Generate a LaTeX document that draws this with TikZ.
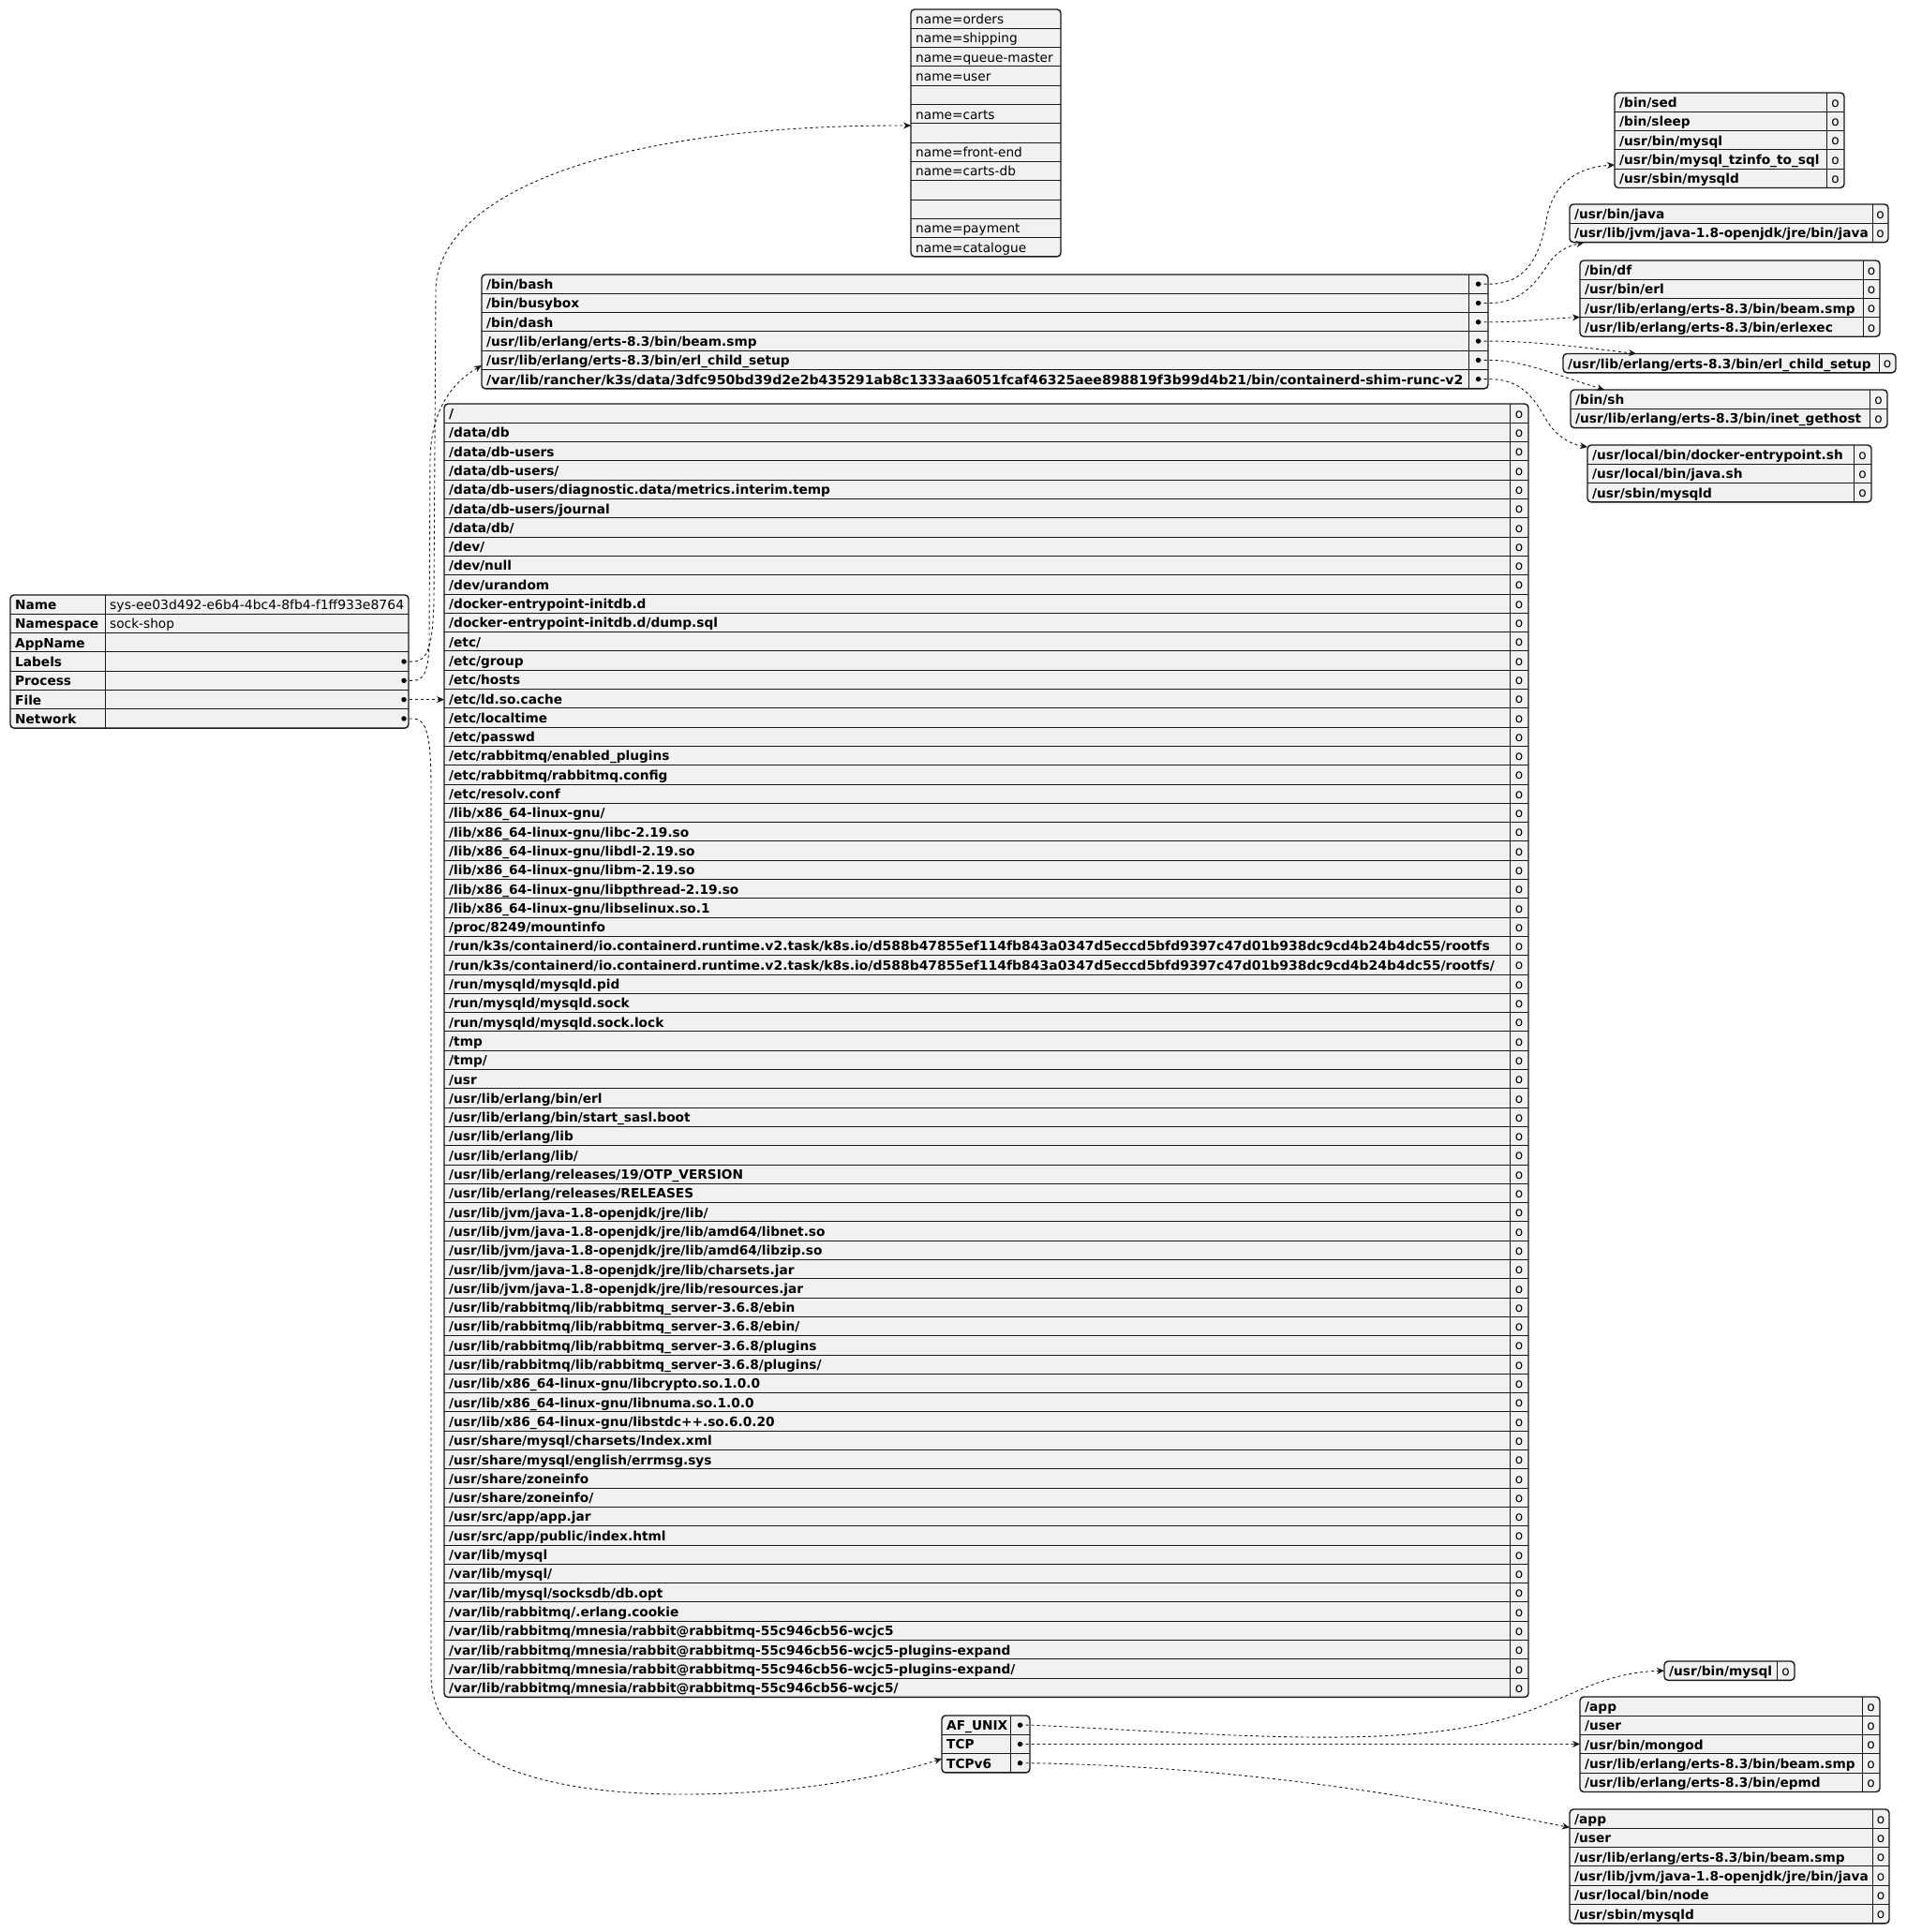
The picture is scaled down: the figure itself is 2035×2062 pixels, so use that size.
\documentclass[tikz,border=0pt]{standalone}
\usepackage{fontspec}
\setmainfont{DejaVu Sans}
\usetikzlibrary{arrows.meta}
\definecolor{tfill}{HTML}{F1F1F1}
\definecolor{tline}{HTML}{181818}
\def\rh{20.3}
\tikzset{
 tbox/.style={draw=tline, fill=tfill, line width=1.4pt, rounded corners=4pt, inner sep=0pt, outer sep=0pt},
 sep/.style={draw=tline, line width=1pt},
 keytxt/.style={font=\fontsize{13.7}{16}\selectfont\bfseries, inner sep=0pt, anchor=base west, text=black},
 valtxt/.style={font=\fontsize{13.7}{16}\selectfont, inner sep=0pt, anchor=base west, text=black},
 omark/.style={font=\fontsize{13.7}{16}\selectfont, inner sep=0pt, anchor=base, text=black},
 dotmark/.style={circle, fill=black, inner sep=0pt, minimum size=5.4pt},
 conn/.style={draw=tline, line width=0.9pt, dash pattern=on 3pt off 3pt, -{Stealth[length=8pt,width=7pt,inset=2.5pt]}},
}
% #1 name, #2 x1, #3 y1, #4 xdiv, #5 x2, #6 rows, #7 keys, #8 mark (o or d)
\newcommand\jtab[8]{%
  \node[tbox, anchor=north west, minimum width={#5-#2}, minimum height={#6*\rh}] (#1) at (#2,#3) {};
  \pgfmathtruncatemacro\jn{#6-1}%
  \ifnum\jn>0
    \foreach \i in {1,...,\jn} {\draw[sep] (#2,{#3+\i*\rh}) -- (#5,{#3+\i*\rh});}
  \fi
  \draw[sep] (#4,#3) -- (#4,{#3+#6*\rh});
  \foreach \t [count=\i] in {#7} {\node[keytxt] (#1-k\i) at ({#2+5},{#3+\i*\rh-\rh+15.5}) {\t};}
  \foreach \i in {1,...,#6} {%
    \if#8o
      \node[omark] (#1-m\i) at ({(#4+#5)/2},{#3+\i*\rh-\rh+15.2}) {o};
    \else
      \node[dotmark] (#1-m\i) at ({(#4+#5)/2},{#3+\i*\rh-\rh/2}) {};
    \fi}
}
\newcommand\wide[2]{\scalebox{#1}[1]{#2}}
\begin{document}
\begin{tikzpicture}[x=1pt,y=-1pt]
\useasboundingbox (0,0) rectangle (2035,2062);
\fill[white] (0,0) rectangle (2035,2062);

% ---------- root table ----------
\node[tbox, anchor=north west, minimum width=425, minimum height={7*\rh}] (info) at (11,635) {};
\foreach \i in {1,...,6} {\draw[sep] (11,{635+\i*\rh}) -- (436,{635+\i*\rh});}
\draw[sep] (112,635) -- (112,{635+7*\rh});
\foreach \t [count=\i] in {Name,Namespace,AppName,Labels,Process,File,Network}
  {\node[keytxt] (info-k\i) at (16,{635+\i*\rh-\rh+15.5}) {\t};}
\node[valtxt] (info-v1) at (117,{635+15.5}) {\wide{1.02}{sys-ee03d492-e6b4-4bc4-8fb4-f1ff933e8764}};
\node[valtxt] (info-v2) at (117,{635+\rh+15.5}) {sock-shop};
\node[dotmark] (d-lab)  at (431,{635+3.5*\rh}) {};
\node[dotmark] (d-proc) at (431,{635+4.5*\rh}) {};
\node[dotmark] (d-file) at (431,{635+5.5*\rh}) {};
\node[dotmark] (d-net)  at (431,{635+6.5*\rh}) {};

% ---------- labels ----------
\node[tbox, anchor=north west, minimum width=160, minimum height={13*\rh}] (labels) at (972,10) {};
\foreach \i in {1,...,12} {\draw[sep] (972,{10+\i*\rh}) -- (1132,{10+\i*\rh});}
\foreach \t [count=\i] in {name=orders,name=shipping,name=queue-master,name=user,{},name=carts,{},name=front-end,name=carts-db,{},{},name=payment,name=catalogue}
  {\node[valtxt] (labels-k\i) at (977,{10+\i*\rh-\rh+15.5}) {\t};}

% ---------- process ----------
\jtab{proc}{514}{293}{1567}{1588}{6}{/bin/bash,/bin/busybox,/bin/dash,/usr/lib/erlang/erts-8.3/bin/beam.smp,/usr/lib/erlang/erts-8.3/bin/erl\_child\_setup,{\wide{1.03}{/var/lib/rancher/k3s/data/3dfc950bd39d2e2b435291ab8c1333aa6051fcaf46325aee898819f3b99d4b21/bin/containerd-shim-runc-v2}}}{d}

% ---------- files ----------
\jtab{file}{474}{431}{1611}{1631}{68}{/,/data/db,/data/db-users,/data/db-users/,/data/db-users/diagnostic.data/metrics.interim.temp,/data/db-users/journal,/data/db/,/dev/,/dev/null,/dev/urandom,/docker-entrypoint-initdb.d,/docker-entrypoint-initdb.d/dump.sql,/etc/,/etc/group,/etc/hosts,/etc/ld.so.cache,/etc/localtime,/etc/passwd,/etc/rabbitmq/enabled\_plugins,/etc/rabbitmq/rabbitmq.config,/etc/resolv.conf,/lib/x86\_64-linux-gnu/,/lib/x86\_64-linux-gnu/libc-2.19.so,/lib/x86\_64-linux-gnu/libdl-2.19.so,/lib/x86\_64-linux-gnu/libm-2.19.so,/lib/x86\_64-linux-gnu/libpthread-2.19.so,/lib/x86\_64-linux-gnu/libselinux.so.1,/proc/8249/mountinfo,{\wide{1.02}{/run/k3s/containerd/io.containerd.runtime.v2.task/k8s.io/d588b47855ef114fb843a0347d5eccd5bfd9397c47d01b938dc9cd4b24b4dc55/rootfs}},{\wide{1.02}{/run/k3s/containerd/io.containerd.runtime.v2.task/k8s.io/d588b47855ef114fb843a0347d5eccd5bfd9397c47d01b938dc9cd4b24b4dc55/rootfs/}},/run/mysqld/mysqld.pid,/run/mysqld/mysqld.sock,/run/mysqld/mysqld.sock.lock,/tmp,/tmp/,/usr,/usr/lib/erlang/bin/erl,/usr/lib/erlang/bin/start\_sasl.boot,/usr/lib/erlang/lib,/usr/lib/erlang/lib/,/usr/lib/erlang/releases/19/OTP\_VERSION,/usr/lib/erlang/releases/RELEASES,/usr/lib/jvm/java-1.8-openjdk/jre/lib/,/usr/lib/jvm/java-1.8-openjdk/jre/lib/amd64/libnet.so,/usr/lib/jvm/java-1.8-openjdk/jre/lib/amd64/libzip.so,/usr/lib/jvm/java-1.8-openjdk/jre/lib/charsets.jar,/usr/lib/jvm/java-1.8-openjdk/jre/lib/resources.jar,/usr/lib/rabbitmq/lib/rabbitmq\_server-3.6.8/ebin,/usr/lib/rabbitmq/lib/rabbitmq\_server-3.6.8/ebin/,/usr/lib/rabbitmq/lib/rabbitmq\_server-3.6.8/plugins,/usr/lib/rabbitmq/lib/rabbitmq\_server-3.6.8/plugins/,/usr/lib/x86\_64-linux-gnu/libcrypto.so.1.0.0,/usr/lib/x86\_64-linux-gnu/libnuma.so.1.0.0,/usr/lib/x86\_64-linux-gnu/libstdc++.so.6.0.20,/usr/share/mysql/charsets/Index.xml,/usr/share/mysql/english/errmsg.sys,/usr/share/zoneinfo,/usr/share/zoneinfo/,/usr/src/app/app.jar,/usr/src/app/public/index.html,/var/lib/mysql,/var/lib/mysql/,/var/lib/mysql/socksdb/db.opt,/var/lib/rabbitmq/.erlang.cookie,/var/lib/rabbitmq/mnesia/rabbit@rabbitmq-55c946cb56-wcjc5,/var/lib/rabbitmq/mnesia/rabbit@rabbitmq-55c946cb56-wcjc5-plugins-expand,/var/lib/rabbitmq/mnesia/rabbit@rabbitmq-55c946cb56-wcjc5-plugins-expand/,/var/lib/rabbitmq/mnesia/rabbit@rabbitmq-55c946cb56-wcjc5/}{o}

% ---------- network ----------
\jtab{net}{1005}{1831}{1078}{1099}{3}{AF\_UNIX,TCP,TCPv6}{d}

% ---------- process children ----------
\jtab{sed}{1723}{99}{1949}{1968}{5}{/bin/sed,/bin/sleep,/usr/bin/mysql,/usr/bin/mysql\_tzinfo\_to\_sql,/usr/sbin/mysqld}{o}
\jtab{java}{1675}{218}{1998}{2015}{2}{/usr/bin/java,/usr/lib/jvm/java-1.8-openjdk/jre/bin/java}{o}
\jtab{df}{1686}{278}{1988}{2006}{4}{/bin/df,/usr/bin/erl,/usr/lib/erlang/erts-8.3/bin/beam.smp,/usr/lib/erlang/erts-8.3/bin/erlexec}{o}
\jtab{erl}{1668}{377.5}{2005}{2023}{1}{/usr/lib/erlang/erts-8.3/bin/erl\_child\_setup}{o}
\jtab{sh}{1676}{416}{1995}{2014}{2}{/bin/sh,/usr/lib/erlang/erts-8.3/bin/inet\_gethost}{o}
\jtab{dock}{1694}{475}{1978}{1997}{3}{/usr/local/bin/docker-entrypoint.sh,/usr/local/bin/java.sh,/usr/sbin/mysqld}{o}

% ---------- network children ----------
\jtab{mysql}{1776}{1773}{1896}{1915}{1}{/usr/bin/mysql}{o}
\jtab{mongo}{1686}{1811}{1987}{2006}{5}{/app,/user,/usr/bin/mongod,/usr/lib/erlang/erts-8.3/bin/beam.smp,/usr/lib/erlang/erts-8.3/bin/epmd}{o}
\jtab{node}{1675}{1931}{1998}{2016}{6}{/app,/user,/usr/lib/erlang/erts-8.3/bin/beam.smp,/usr/lib/jvm/java-1.8-openjdk/jre/bin/java,/usr/local/bin/node,/usr/sbin/mysqld}{o}

% ---------- arrow end points ----------
\coordinate (labels-in) at (972,134);
\coordinate (proc-in) at (514,390);
\coordinate (file-in) at (474,{635+5.5*\rh});
\coordinate (net-in) at (1005,1877);
\coordinate (sed-in) at (1723,176);
\coordinate (java-in) at (1690,259);
\coordinate (df-in) at (1686,338.5);
\coordinate (erl-in) at (1746,377.5);
\coordinate (sh-in) at (1712,416);
\coordinate (dock-in) at (1694,477);
\coordinate (mysql-in) at (1776,{1773+\rh/2});
\coordinate (mongo-in) at (1686,{1831+1.5*\rh});
\coordinate (node-in) at (1675,1950.5);

% ---------- connectors from root ----------
\draw[conn] (d-lab.center) -- ++(10,0) .. controls +(15,0) and (462,690) .. (463,640)
  -- (465,310) .. controls (466,215) and (630,133) .. (labels-in);
\draw[conn] (d-proc.center) -- ++(10,0) .. controls +(13,0) and (458,712) .. (458,680)
  -- (459,490) .. controls (460,440) and (480,410) .. (proc-in);
\draw[conn] (d-file.center) -- (file-in);
\draw[conn] (d-net.center) -- ++(10,0) .. controls +(14,0) and (460,785) .. (460,840)
  -- (460,1790) .. controls (461,1850) and (520,1915) .. (730,1915)
  .. controls (850,1915) and (950,1895) .. (net-in);

% ---------- connectors from process ----------
\draw[conn] (proc-m1.center) -- ++(12,0) .. controls +(35,0) and (1642,280) .. (1650,235)
  .. controls (1658,190) and (1690,178) .. (sed-in);
\draw[conn] (proc-m2.center) -- ++(12,0) .. controls +(35,0) and (1640,300) .. (1652,282)
  .. controls (1662,267) and (1675,262) .. (java-in);
\draw[conn] (proc-m3.center) -- ++(12,0) .. controls +(40,0) and (1650,340) .. (df-in);
\draw[conn] (proc-m4.center) -- ++(12,0) .. controls +(50,0) and (1700,372) .. (erl-in);
\draw[conn] (proc-m5.center) -- ++(12,0) .. controls +(35,0) and (1660,400) .. (sh-in);
\draw[conn] (proc-m6.center) -- ++(12,0) .. controls +(30,0) and (1635,420) .. (1650,448)
  .. controls (1660,465) and (1675,474) .. (dock-in);

% ---------- connectors from network ----------
\draw[conn] (net-m1.center) -- ++(12,0) .. controls +(200,9) and (1500,1870) .. (1620,1830)
  .. controls (1680,1810) and (1710,1785) .. (mysql-in);
\draw[conn] (net-m2.center) -- (mongo-in);
\draw[conn] (net-m3.center) -- ++(12,0) .. controls +(250,4) and (1550,1925) .. (node-in);
\end{tikzpicture}
\end{document}
